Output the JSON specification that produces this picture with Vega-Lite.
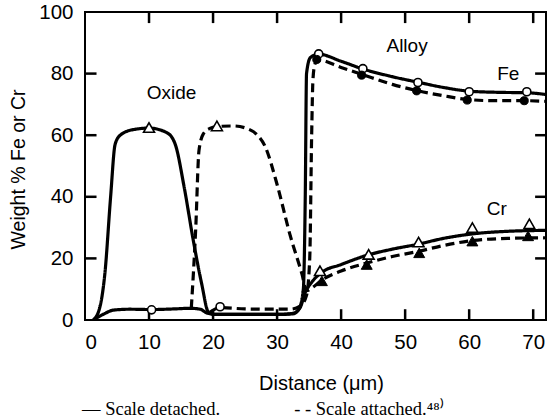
{
  "$schema": "https://vega.github.io/schema/vega-lite/v6.json",
  "width": 461,
  "height": 308,
  "autosize": "none",
  "padding": {"left": 85, "top": 12, "right": 1, "bottom": 100},
  "background": "white",
  "config": {
    "view": {"stroke": "black", "strokeWidth": 2},
    "axis": {
      "grid": false,
      "domain": false,
      "ticks": false,
      "labelFont": "Liberation Sans",
      "titleFont": "Liberation Sans",
      "labelColor": "black",
      "titleColor": "black",
      "labelFontSize": 20.5,
      "titleFontSize": 19,
      "titleFontWeight": "normal"
    }
  },
  "title": {
    "text": "— Scale detached.\u2003\u2003\u2003\u2003- - Scale attached.⁴⁸⁾",
    "orient": "bottom",
    "anchor": "start",
    "frame": "group",
    "offset": 7,
    "dx": -3,
    "font": "Liberation Serif",
    "fontSize": 18.5,
    "fontWeight": "normal",
    "color": "black"
  },
  "datasets": {
    "lines": [
      {"series": "Cr-detached", "sample": "detached", "x": 1.3, "y": 0},
      {"series": "Cr-detached", "sample": "detached", "x": 2.3, "y": 4},
      {"series": "Cr-detached", "sample": "detached", "x": 3.1, "y": 15},
      {"series": "Cr-detached", "sample": "detached", "x": 4.0, "y": 40},
      {"series": "Cr-detached", "sample": "detached", "x": 4.7, "y": 57},
      {"series": "Cr-detached", "sample": "detached", "x": 5.5, "y": 60},
      {"series": "Cr-detached", "sample": "detached", "x": 7.5, "y": 61.8},
      {"series": "Cr-detached", "sample": "detached", "x": 10, "y": 62.3},
      {"series": "Cr-detached", "sample": "detached", "x": 12.8, "y": 60.8},
      {"series": "Cr-detached", "sample": "detached", "x": 14.1, "y": 57},
      {"series": "Cr-detached", "sample": "detached", "x": 15.5, "y": 43},
      {"series": "Cr-detached", "sample": "detached", "x": 16.9, "y": 26},
      {"series": "Cr-detached", "sample": "detached", "x": 18.2, "y": 12},
      {"series": "Cr-detached", "sample": "detached", "x": 19.3, "y": 2.5},
      {"series": "Cr-detached", "sample": "detached", "x": 20.5, "y": 1.8},
      {"series": "Cr-detached", "sample": "detached", "x": 25, "y": 1.8},
      {"series": "Cr-detached", "sample": "detached", "x": 30, "y": 1.8},
      {"series": "Cr-detached", "sample": "detached", "x": 32.5, "y": 2.2},
      {"series": "Cr-detached", "sample": "detached", "x": 33.6, "y": 4},
      {"series": "Cr-detached", "sample": "detached", "x": 34.4, "y": 9},
      {"series": "Cr-detached", "sample": "detached", "x": 35.5, "y": 12.5},
      {"series": "Cr-detached", "sample": "detached", "x": 37, "y": 15.5},
      {"series": "Cr-detached", "sample": "detached", "x": 40, "y": 18},
      {"series": "Cr-detached", "sample": "detached", "x": 44, "y": 21},
      {"series": "Cr-detached", "sample": "detached", "x": 48, "y": 23},
      {"series": "Cr-detached", "sample": "detached", "x": 52, "y": 24.6},
      {"series": "Cr-detached", "sample": "detached", "x": 56, "y": 26.5},
      {"series": "Cr-detached", "sample": "detached", "x": 60.7, "y": 28},
      {"series": "Cr-detached", "sample": "detached", "x": 66, "y": 28.8},
      {"series": "Cr-detached", "sample": "detached", "x": 72, "y": 29.1},

      {"series": "Fe-detached", "sample": "detached", "x": 1.3, "y": 0},
      {"series": "Fe-detached", "sample": "detached", "x": 3, "y": 2},
      {"series": "Fe-detached", "sample": "detached", "x": 4.4, "y": 3.2},
      {"series": "Fe-detached", "sample": "detached", "x": 7, "y": 3.5},
      {"series": "Fe-detached", "sample": "detached", "x": 10.4, "y": 3.4},
      {"series": "Fe-detached", "sample": "detached", "x": 14, "y": 3.6},
      {"series": "Fe-detached", "sample": "detached", "x": 16.4, "y": 3.8},
      {"series": "Fe-detached", "sample": "detached", "x": 18, "y": 3.5},
      {"series": "Fe-detached", "sample": "detached", "x": 19, "y": 2.3},
      {"series": "Fe-detached", "sample": "detached", "x": 20.5, "y": 1.8},
      {"series": "Fe-detached", "sample": "detached", "x": 25, "y": 1.8},
      {"series": "Fe-detached", "sample": "detached", "x": 30, "y": 1.8},
      {"series": "Fe-detached", "sample": "detached", "x": 32.5, "y": 2},
      {"series": "Fe-detached", "sample": "detached", "x": 33.5, "y": 4},
      {"series": "Fe-detached", "sample": "detached", "x": 34.1, "y": 10},
      {"series": "Fe-detached", "sample": "detached", "x": 34.4, "y": 40},
      {"series": "Fe-detached", "sample": "detached", "x": 34.6, "y": 80},
      {"series": "Fe-detached", "sample": "detached", "x": 35.2, "y": 85.2},
      {"series": "Fe-detached", "sample": "detached", "x": 36.5, "y": 86.3},
      {"series": "Fe-detached", "sample": "detached", "x": 40, "y": 84},
      {"series": "Fe-detached", "sample": "detached", "x": 43.4, "y": 81.5},
      {"series": "Fe-detached", "sample": "detached", "x": 48, "y": 79},
      {"series": "Fe-detached", "sample": "detached", "x": 52, "y": 77.2},
      {"series": "Fe-detached", "sample": "detached", "x": 56, "y": 75.5},
      {"series": "Fe-detached", "sample": "detached", "x": 60, "y": 74.3},
      {"series": "Fe-detached", "sample": "detached", "x": 65, "y": 73.9},
      {"series": "Fe-detached", "sample": "detached", "x": 68.9, "y": 73.8},
      {"series": "Fe-detached", "sample": "detached", "x": 72, "y": 73.2},

      {"series": "Cr-attached", "sample": "attached", "x": 16.6, "y": 3.8},
      {"series": "Cr-attached", "sample": "attached", "x": 17.3, "y": 30},
      {"series": "Cr-attached", "sample": "attached", "x": 17.8, "y": 55},
      {"series": "Cr-attached", "sample": "attached", "x": 18.5, "y": 60.5},
      {"series": "Cr-attached", "sample": "attached", "x": 19.5, "y": 62.2},
      {"series": "Cr-attached", "sample": "attached", "x": 20.6, "y": 62.8},
      {"series": "Cr-attached", "sample": "attached", "x": 23.2, "y": 63},
      {"series": "Cr-attached", "sample": "attached", "x": 25.5, "y": 62},
      {"series": "Cr-attached", "sample": "attached", "x": 26.8, "y": 60.3},
      {"series": "Cr-attached", "sample": "attached", "x": 28.1, "y": 56.5},
      {"series": "Cr-attached", "sample": "attached", "x": 30, "y": 44},
      {"series": "Cr-attached", "sample": "attached", "x": 32, "y": 27.8},
      {"series": "Cr-attached", "sample": "attached", "x": 33.9, "y": 14.8},
      {"series": "Cr-attached", "sample": "attached", "x": 34.6, "y": 9.5},
      {"series": "Cr-attached", "sample": "attached", "x": 35.5, "y": 10.5},
      {"series": "Cr-attached", "sample": "attached", "x": 37, "y": 13},
      {"series": "Cr-attached", "sample": "attached", "x": 40, "y": 15.9},
      {"series": "Cr-attached", "sample": "attached", "x": 44, "y": 18.5},
      {"series": "Cr-attached", "sample": "attached", "x": 48, "y": 20.6},
      {"series": "Cr-attached", "sample": "attached", "x": 52.3, "y": 22.4},
      {"series": "Cr-attached", "sample": "attached", "x": 56, "y": 24.2},
      {"series": "Cr-attached", "sample": "attached", "x": 60.5, "y": 25.8},
      {"series": "Cr-attached", "sample": "attached", "x": 66, "y": 26.5},
      {"series": "Cr-attached", "sample": "attached", "x": 72, "y": 26.7},

      {"series": "Fe-attached", "sample": "attached", "x": 19.5, "y": 2.5},
      {"series": "Fe-attached", "sample": "attached", "x": 21.1, "y": 4},
      {"series": "Fe-attached", "sample": "attached", "x": 25, "y": 3.6},
      {"series": "Fe-attached", "sample": "attached", "x": 29, "y": 3.5},
      {"series": "Fe-attached", "sample": "attached", "x": 32, "y": 3.5},
      {"series": "Fe-attached", "sample": "attached", "x": 33.6, "y": 4.5},
      {"series": "Fe-attached", "sample": "attached", "x": 34.6, "y": 8},
      {"series": "Fe-attached", "sample": "attached", "x": 35.1, "y": 20},
      {"series": "Fe-attached", "sample": "attached", "x": 35.4, "y": 60},
      {"series": "Fe-attached", "sample": "attached", "x": 35.6, "y": 78},
      {"series": "Fe-attached", "sample": "attached", "x": 35.9, "y": 83},
      {"series": "Fe-attached", "sample": "attached", "x": 36.3, "y": 84.5},
      {"series": "Fe-attached", "sample": "attached", "x": 40, "y": 82},
      {"series": "Fe-attached", "sample": "attached", "x": 43.2, "y": 79.8},
      {"series": "Fe-attached", "sample": "attached", "x": 48, "y": 76.5},
      {"series": "Fe-attached", "sample": "attached", "x": 51.8, "y": 74.5},
      {"series": "Fe-attached", "sample": "attached", "x": 56, "y": 72.8},
      {"series": "Fe-attached", "sample": "attached", "x": 59.7, "y": 71.6},
      {"series": "Fe-attached", "sample": "attached", "x": 64, "y": 71.2},
      {"series": "Fe-attached", "sample": "attached", "x": 68.6, "y": 71.2},
      {"series": "Fe-attached", "sample": "attached", "x": 72, "y": 71}
    ],
    "points": [
      {"element": "Fe", "sample": "detached", "region": "oxide", "x": 10.4, "y": 3.3},
      {"element": "Fe", "sample": "detached", "region": "alloy", "x": 36.5, "y": 86.4},
      {"element": "Fe", "sample": "detached", "region": "alloy", "x": 43.4, "y": 81.6},
      {"element": "Fe", "sample": "detached", "region": "alloy", "x": 52, "y": 77.1},
      {"element": "Fe", "sample": "detached", "region": "alloy", "x": 60, "y": 74.1},
      {"element": "Fe", "sample": "detached", "region": "alloy", "x": 69, "y": 74.1},
      {"element": "Fe", "sample": "attached", "region": "oxide", "x": 21.1, "y": 4.3},
      {"element": "Fe", "sample": "attached", "region": "alloy", "x": 36.2, "y": 84.6},
      {"element": "Fe", "sample": "attached", "region": "alloy", "x": 43.2, "y": 79.5},
      {"element": "Fe", "sample": "attached", "region": "alloy", "x": 51.8, "y": 74.4},
      {"element": "Fe", "sample": "attached", "region": "alloy", "x": 59.7, "y": 71.4},
      {"element": "Fe", "sample": "attached", "region": "alloy", "x": 68.6, "y": 71.2},
      {"element": "Cr", "sample": "detached", "region": "oxide", "x": 10, "y": 62.5},
      {"element": "Cr", "sample": "detached", "region": "alloy", "x": 36.7, "y": 16},
      {"element": "Cr", "sample": "detached", "region": "alloy", "x": 44.3, "y": 21.3},
      {"element": "Cr", "sample": "detached", "region": "alloy", "x": 52.1, "y": 25.3},
      {"element": "Cr", "sample": "detached", "region": "alloy", "x": 60.5, "y": 30},
      {"element": "Cr", "sample": "detached", "region": "alloy", "x": 69.4, "y": 31.2},
      {"element": "Cr", "sample": "attached", "region": "oxide", "x": 20.6, "y": 63},
      {"element": "Cr", "sample": "attached", "region": "alloy", "x": 37, "y": 12.7},
      {"element": "Cr", "sample": "attached", "region": "alloy", "x": 44, "y": 18},
      {"element": "Cr", "sample": "attached", "region": "alloy", "x": 52.2, "y": 21.8},
      {"element": "Cr", "sample": "attached", "region": "alloy", "x": 60.5, "y": 25.6},
      {"element": "Cr", "sample": "attached", "region": "alloy", "x": 69.2, "y": 27.3}
    ],
    "xtickmarks": [
      {"xv": 10, "ylo": 0, "yhi": 3.5},
      {"xv": 20, "ylo": 0, "yhi": 3.5},
      {"xv": 30, "ylo": 0, "yhi": 3.5},
      {"xv": 40, "ylo": 0, "yhi": 3.5},
      {"xv": 50, "ylo": 0, "yhi": 3.5},
      {"xv": 60, "ylo": 0, "yhi": 3.5},
      {"xv": 70, "ylo": 0, "yhi": 3.5},
      {"xv": 10, "ylo": 96.4, "yhi": 100},
      {"xv": 20, "ylo": 96.4, "yhi": 100},
      {"xv": 30, "ylo": 96.4, "yhi": 100},
      {"xv": 40, "ylo": 96.4, "yhi": 100},
      {"xv": 50, "ylo": 96.4, "yhi": 100},
      {"xv": 60, "ylo": 96.4, "yhi": 100},
      {"xv": 70, "ylo": 96.4, "yhi": 100}
    ],
    "ytickmarks": [
      {"yv": 20, "xlo": 0, "xhi": 1.8},
      {"yv": 40, "xlo": 0, "xhi": 1.8},
      {"yv": 60, "xlo": 0, "xhi": 1.8},
      {"yv": 80, "xlo": 0, "xhi": 1.8},
      {"yv": 20, "xlo": 70.3, "xhi": 72},
      {"yv": 40, "xlo": 70.3, "xhi": 72},
      {"yv": 60, "xlo": 70.3, "xhi": 72},
      {"yv": 80, "xlo": 70.3, "xhi": 72}
    ],
    "labels": [
      {"label": "Oxide", "x": 13.5, "y": 73.8},
      {"label": "Alloy", "x": 50.3, "y": 89},
      {"label": "Fe", "x": 66.1, "y": 79.9},
      {"label": "Cr", "x": 64.3, "y": 35.9}
    ]
  },
  "layer": [
    {
      "data": {"name": "xtickmarks"},
      "mark": {"type": "rule", "color": "#000000", "stroke": "#000000", "strokeWidth": 2.5, "opacity": 1},
      "encoding": {
        "x": {
          "field": "xv", "type": "quantitative",
          "scale": {"domain": [0, 72], "nice": false, "zero": false},
          "axis": {
            "orient": "bottom", "values": [0, 10, 20, 30, 40, 50, 60, 70],
            "labelPadding": 12,
            "title": "Distance (μm)", "titleX": 236, "titleY": 63, "titleBaseline": "middle", "titleFontSize": 20
          }
        },
        "y": {
          "field": "ylo", "type": "quantitative",
          "scale": {"domain": [0, 100], "nice": false},
          "axis": {
            "orient": "left", "values": [0, 20, 40, 60, 80, 100],
            "labelPadding": 12,
            "title": "Weight % Fe or Cr", "titleX": -67, "titleY": 157, "titleAngle": -90,
            "titleAlign": "center", "titleBaseline": "middle", "titleFontSize": 19.5
          }
        },
        "y2": {"field": "yhi"}
      }
    },
    {
      "data": {"name": "ytickmarks"},
      "mark": {"type": "rule", "color": "#000000", "stroke": "#000000", "strokeWidth": 2.5, "opacity": 1},
      "encoding": {
        "y": {"field": "yv", "type": "quantitative", "axis": null},
        "x": {"field": "xlo", "type": "quantitative", "axis": null},
        "x2": {"field": "xhi"}
      }
    },
    {
      "data": {"name": "lines"},
      "mark": {"type": "line", "color": "black", "strokeWidth": 3.2, "interpolate": "monotone", "clip": true},
      "encoding": {
        "x": {"field": "x", "type": "quantitative", "axis": null},
        "y": {"field": "y", "type": "quantitative", "axis": null},
        "detail": {"field": "series", "type": "nominal"},
        "strokeDash": {
          "field": "sample", "type": "nominal",
          "scale": {"domain": ["detached", "attached"], "range": [[1, 0], [9, 5]]},
          "legend": null
        }
      }
    },
    {
      "data": {"name": "points"},
      "transform": [{"filter": "datum.sample == 'detached' || datum.region == 'oxide'"}],
      "mark": {"type": "point", "filled": true, "fill": "white", "stroke": "black", "strokeWidth": 1.6, "opacity": 1},
      "encoding": {
        "x": {"field": "x", "type": "quantitative", "axis": null},
        "y": {"field": "y", "type": "quantitative", "axis": null},
        "shape": {"field": "element", "type": "nominal", "scale": {"domain": ["Fe", "Cr"], "range": ["circle", "triangle-up"]}, "legend": null},
        "size": {"field": "element", "type": "nominal", "scale": {"domain": ["Fe", "Cr"], "range": [65, 120]}, "legend": null}
      }
    },
    {
      "data": {"name": "points"},
      "transform": [{"filter": "datum.sample == 'attached' && datum.region == 'alloy'"}],
      "mark": {"type": "point", "filled": true, "fill": "black", "stroke": "black", "strokeWidth": 1, "opacity": 1},
      "encoding": {
        "x": {"field": "x", "type": "quantitative", "axis": null},
        "y": {"field": "y", "type": "quantitative", "axis": null},
        "shape": {"field": "element", "type": "nominal", "scale": {"domain": ["Fe", "Cr"], "range": ["circle", "triangle-up"]}, "legend": null},
        "size": {"field": "element", "type": "nominal", "scale": {"domain": ["Fe", "Cr"], "range": [65, 120]}, "legend": null}
      }
    },
    {
      "data": {"name": "labels"},
      "mark": {"type": "text", "font": "Liberation Sans", "fontSize": 19, "color": "black", "align": "center", "baseline": "middle"},
      "encoding": {
        "x": {"field": "x", "type": "quantitative", "axis": null},
        "y": {"field": "y", "type": "quantitative", "axis": null},
        "text": {"field": "label", "type": "nominal"}
      }
    }
  ],
  "resolve": {"axis": {"x": "independent", "y": "independent"}}
}
